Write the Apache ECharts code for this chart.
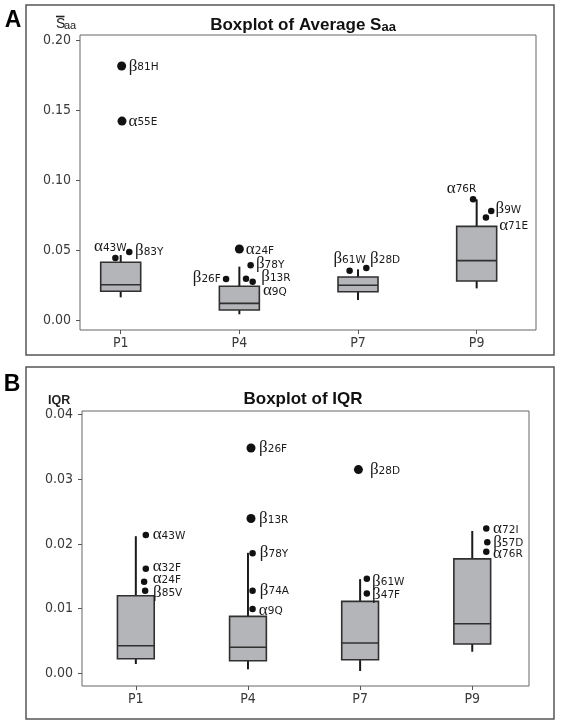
<!DOCTYPE html>
<html>
<head>
<meta charset="utf-8">
<script src="https://cdn.jsdelivr.net/npm/echarts@6/dist/echarts.min.js"></script>
<style>
html,body{margin:0;padding:0;background:#fff;}
#chart{width:561px;height:725px;}
</style>
</head>
<body>
<div id="chart"></div>
<script>
// ---------------- DATA ----------------
const categories = ['P1', 'P4', 'P7', 'P9'];
const avgTicks = [0, 0.05, 0.10, 0.15, 0.20];
const iqrTicks = [0, 0.01, 0.02, 0.03, 0.04];

// Panel A: Boxplot of Average Saa
const avgWhiskerLow  = [0.0162, 0.0041, 0.0143, 0.0226];
const avgQ1          = [0.0205, 0.0071, 0.0202, 0.0279];
const avgMedian      = [0.0252, 0.0119, 0.0248, 0.0424];
const avgQ3          = [0.0412, 0.0241, 0.0307, 0.0669];
const avgWhiskerHigh = [0.0464, 0.0381, 0.0362, 0.0862];

const avgOutlierCat    = [0, 0, 0, 0, 1, 1, 1, 1, 1, 2, 2, 3, 3, 3];
const avgOutlierJitter = [0.008, 0.011, -0.045, 0.072, 0, 0.095, -0.112, 0.056, 0.112, -0.071, 0.07, -0.03, 0.123, 0.078];
const avgOutlierValue  = [0.1814, 0.1421, 0.0443, 0.0486, 0.0507, 0.0391, 0.0293, 0.0295, 0.0274, 0.0352, 0.0371, 0.0862, 0.0779, 0.0733];
const avgOutlierName   = ['β81H', 'α55E', 'α43W', 'β83Y', 'α24F', 'β78Y', 'β26F', 'β13R', 'α9Q', 'β61W', 'β28D', 'α76R', 'β9W', 'α71E'];

// Panel B: Boxplot of IQR
const iqrWhiskerLow  = [0.00144, 0.00062, 0.00036, 0.00334];
const iqrQ1          = [0.00226, 0.00195, 0.00210, 0.00453];
const iqrMedian      = [0.00426, 0.00402, 0.00468, 0.00766];
const iqrQ3          = [0.01199, 0.00880, 0.01112, 0.01770];
const iqrWhiskerHigh = [0.02120, 0.01863, 0.01456, 0.02200];

const iqrOutlierCat    = [0, 0, 0, 0, 1, 1, 1, 1, 1, 2, 2, 2, 3, 3, 3];
const iqrOutlierJitter = [0.089, 0.089, 0.074, 0.083, 0.027, 0.027, 0.041, 0.041, 0.041, -0.015, 0.06, 0.06, 0.125, 0.134, 0.125];
const iqrOutlierValue  = [0.0214, 0.01616, 0.01415, 0.01276, 0.03484, 0.02394, 0.01858, 0.01276, 0.00993, 0.0315, 0.01461, 0.01236, 0.0224, 0.02028, 0.01878];
const iqrOutlierName   = ['α43W', 'α32F', 'α24F', 'β85V', 'β26F', 'β13R', 'β78Y', 'β74A', 'α9Q', 'β28D', 'β61W', 'β47F', 'α72I', 'β57D', 'α76R'];

// ---------------- STYLE ----------------
const largeA = ['β81H', 'α55E', 'α24F'];
const largeB = ['β26F', 'β13R', 'β28D'];
// label placement: [position, distance, dx, dy]
const labelPlaceA = [
  ['right', 2.5, 0, 0], ['right', 2, 0, 0], ['top', 0, -5, 1], ['right', 2.5, 0, -1],
  ['right', 2, 0, 1], ['right', 2, 0, -1.5], ['left', 2, 0, -1.5], ['right', 12, 0, -2], ['right', 7, 0, 9.3],
  ['top', 1, 0, 1], ['right', 0.5, 0, -9.3],
  ['top', 0, -11.6, 1], ['right', 1, 0, -2.3], ['right', 10, 0, 7.7]
];
const labelPlaceB = [
  ['right', 3.6, 0, 0], ['right', 3.6, 0, -2], ['right', 5.3, 0, -3.4], ['right', 4.7, 0, 1.3],
  ['right', 3.6, 0, 0], ['right', 3.6, 0, 0], ['right', 4, 0, -0.7], ['right', 4, 0, -0.7], ['right', 3, 0, 1],
  ['right', 7, 0, 0], ['right', 2, 0, 2.3], ['right', 2, 0, 0.7],
  ['right', 3.6, 0, 0], ['right', 2.6, 0, 0], ['right', 3.6, 0, 1.3]
];

const tickFont = "'Liberation Sans Narrow','DejaVu Sans Condensed','Liberation Sans',sans-serif";
const boxFill = '#b4b5b9';
const boxStroke = '#303030';

function boxData(lo, q1, med, q3, hi) {
  return categories.map((c, i) => [i + 1, lo[i], q1[i], med[i], q3[i], hi[i]]);
}
function outlierData(cat, jit, val, names, large, place, bigSize, smallSize) {
  return val.map((v, i) => {
    const p = place[i];
    return {
      value: [cat[i] + 1 + jit[i], v],
      name: names[i],
      symbolSize: large.includes(names[i]) ? bigSize : smallSize,
      label: { position: p[0], distance: p[1], offset: [p[2], p[3]] }
    };
  });
}
function renderBox(boxWidth) {
  return function (params, api) {
    const x = api.value(0);
    const pLo = api.coord([x, api.value(1)]);
    const pQ1 = api.coord([x, api.value(2)]);
    const pMed = api.coord([x, api.value(3)]);
    const pQ3 = api.coord([x, api.value(4)]);
    const pHi = api.coord([x, api.value(5)]);
    const hw = api.size([boxWidth, 0])[0] / 2;
    return {
      type: 'group',
      children: [
        { type: 'line', shape: { x1: pLo[0], y1: pLo[1], x2: pQ1[0], y2: pQ1[1] }, style: { stroke: '#1a1a1a', lineWidth: 2 } },
        { type: 'line', shape: { x1: pQ3[0], y1: pQ3[1], x2: pHi[0], y2: pHi[1] }, style: { stroke: '#1a1a1a', lineWidth: 2 } },
        { type: 'rect', shape: { x: pQ3[0] - hw, y: pQ3[1], width: hw * 2, height: pQ1[1] - pQ3[1] }, style: { fill: boxFill, stroke: boxStroke, lineWidth: 1.6 } },
        { type: 'line', shape: { x1: pMed[0] - hw, y1: pMed[1], x2: pMed[0] + hw, y2: pMed[1] }, style: { stroke: boxStroke, lineWidth: 1.6 } }
      ]
    };
  };
}
const outlierLabel = {
  show: true,
  color: '#1a1a1a',
  formatter: p => '{g|' + p.name.charAt(0) + '}{t|' + p.name.slice(1) + '}',
  rich: {
    g: { fontFamily: "'Liberation Serif','DejaVu Serif',serif", fontSize: 17, color: '#1a1a1a', lineHeight: 18 },
    t: { fontFamily: "'DejaVu Sans',sans-serif", fontSize: 10.5, color: '#1a1a1a', verticalAlign: 'bottom', padding: [0, 0, 2, 0] }
  }
};

function xAxisFor(gridIndex, min, max) {
  return {
    type: 'value', gridIndex, min, max,
    splitLine: { show: false },
    axisLine: { show: false, onZero: false },
    axisTick: { show: true, length: 4, customValues: [1, 2, 3, 4], lineStyle: { color: '#555' } },
    axisLabel: {
      customValues: [1, 2, 3, 4],
      formatter: v => categories[Math.round(v) - 1] || '',
      fontFamily: tickFont, fontSize: 14, color: '#3a3a3a', margin: 6
    }
  };
}
function yAxisFor(gridIndex, min, max, ticks) {
  return {
    type: 'value', gridIndex, min, max,
    splitLine: { show: false },
    axisLine: { show: false, onZero: false },
    axisTick: { show: true, length: 4, customValues: ticks, lineStyle: { color: '#555' } },
    axisLabel: {
      customValues: ticks,
      formatter: v => v.toFixed(2),
      fontFamily: tickFont, fontSize: 14, color: '#3a3a3a', margin: 9
    }
  };
}

const chart = echarts.init(document.getElementById('chart'), null, { renderer: 'canvas' });
chart.setOption({
  animation: false,
  backgroundColor: '#fff',
  grid: [
    { left: 80, top: 35, width: 456, height: 295, show: true, borderColor: '#666', borderWidth: 1, backgroundColor: 'transparent' },
    { left: 82, top: 411, width: 447, height: 275, show: true, borderColor: '#666', borderWidth: 1, backgroundColor: 'transparent' }
  ],
  xAxis: [xAxisFor(0, 0.657, 4.5), xAxisFor(1, 0.52, 4.506)],
  yAxis: [yAxisFor(0, -0.00714, 0.20357, avgTicks), yAxisFor(1, -0.00196, 0.040556, iqrTicks)],
  title: [
    {
      text: '{b|Boxplot of Average S}{s|aa}', left: 298, top: 12, textAlign: 'center',
      textStyle: { rich: {
        b: { fontFamily: "'Liberation Sans',Arial,sans-serif", fontWeight: 'bold', fontSize: 17, color: '#111' },
        s: { fontFamily: "'Liberation Sans',Arial,sans-serif", fontSize: 13, color: '#111', verticalAlign: 'bottom' }
      } }
    },
    {
      text: 'Boxplot of IQR', left: 298, top: 386, textAlign: 'center',
      textStyle: { fontFamily: "'Liberation Sans',Arial,sans-serif", fontWeight: 'bold', fontSize: 17, color: '#111' }
    }
  ],
  graphic: [
    { type: 'rect', shape: { x: 26, y: 5, width: 528, height: 350 }, style: { fill: 'none', stroke: '#555', lineWidth: 1.5 }, silent: true },
    { type: 'rect', shape: { x: 26, y: 367, width: 528, height: 352 }, style: { fill: 'none', stroke: '#555', lineWidth: 1.5 }, silent: true },
    { type: 'text', style: { x: 13, y: 21, text: 'A', font: "bold 23px 'Liberation Sans',Arial,sans-serif", fill: '#000', align: 'center', verticalAlign: 'middle' } },
    { type: 'text', style: { x: 12, y: 385, text: 'B', font: "bold 23px 'Liberation Sans',Arial,sans-serif", fill: '#000', align: 'center', verticalAlign: 'middle' } },
    { type: 'text', style: { x: 56, y: 24, text: 'S', font: "14px 'Liberation Sans',Arial,sans-serif", fill: '#222', align: 'left', verticalAlign: 'middle' } },
    { type: 'text', style: { x: 64, y: 25.5, text: 'aa', font: "11px 'Liberation Sans',Arial,sans-serif", fill: '#222', align: 'left', verticalAlign: 'middle' } },
    { type: 'line', shape: { x1: 56, y1: 16.5, x2: 64.5, y2: 16.5 }, style: { stroke: '#222', lineWidth: 1.6 } },
    { type: 'text', style: { x: 48, y: 401, text: 'IQR', font: "bold 12.5px 'Liberation Sans',Arial,sans-serif", fill: '#222', align: 'left', verticalAlign: 'middle' } }
  ],
  series: [
    {
      type: 'custom', xAxisIndex: 0, yAxisIndex: 0,
      data: boxData(avgWhiskerLow, avgQ1, avgMedian, avgQ3, avgWhiskerHigh),
      encode: { x: 0, y: [1, 2, 3, 4, 5] },
      renderItem: renderBox(0.337), z: 2
    },
    {
      type: 'custom', xAxisIndex: 1, yAxisIndex: 1,
      data: boxData(iqrWhiskerLow, iqrQ1, iqrMedian, iqrQ3, iqrWhiskerHigh),
      encode: { x: 0, y: [1, 2, 3, 4, 5] },
      renderItem: renderBox(0.328), z: 2
    },
    {
      type: 'scatter', xAxisIndex: 0, yAxisIndex: 0, z: 3,
      itemStyle: { color: '#111', opacity: 1 },
      label: outlierLabel,
      data: outlierData(avgOutlierCat, avgOutlierJitter, avgOutlierValue, avgOutlierName, largeA, labelPlaceA, 9, 6.5)
    },
    {
      type: 'scatter', xAxisIndex: 1, yAxisIndex: 1, z: 3,
      itemStyle: { color: '#111', opacity: 1 },
      label: outlierLabel,
      data: outlierData(iqrOutlierCat, iqrOutlierJitter, iqrOutlierValue, iqrOutlierName, largeB, labelPlaceB, 9, 6.5)
    }
  ]
});
</script>
</body>
</html>
